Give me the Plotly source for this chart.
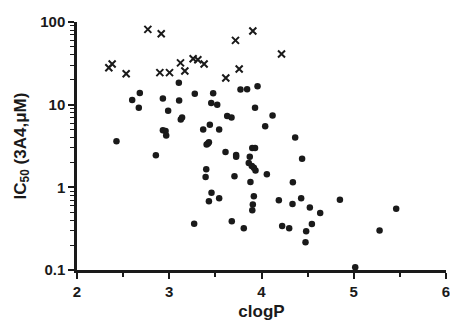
import plotly.graph_objects as go

# Inactive compounds (crosses)
cross_x = [2.345, 2.381, 2.533, 2.768, 2.913, 2.898, 3.003, 3.122, 3.169, 3.259,
           3.310, 3.378, 3.613, 3.718, 3.758, 3.906, 4.217]
cross_y = [28, 31, 23.7, 81.5, 72, 24.4, 24.4, 32, 25.5, 36,
           35, 31, 21, 60, 27, 78, 41]

# Active compounds (dots)
dot_x = [2.428, 2.598, 2.681, 2.670, 2.855, 2.931, 2.931, 2.960, 2.967, 2.988,
         3.104, 3.107, 3.125, 3.139, 3.277, 3.270, 3.368, 3.401, 3.394, 3.405,
         3.420, 3.430, 3.440, 3.430, 3.458, 3.476, 3.455, 3.520, 3.541, 3.541,
         3.610, 3.628, 3.675, 3.678, 3.707, 3.725, 3.725, 3.772, 3.844, 3.808,
         3.862, 3.873, 3.880, 3.900, 3.930, 3.895, 3.917, 3.935, 3.917, 3.906,
         3.900, 3.930, 3.957, 4.058, 4.040, 4.120, 4.188, 4.224, 4.300, 4.336,
         4.340, 4.365, 4.430, 4.440, 4.484, 4.477, 4.524, 4.546, 4.636, 4.850,
         5.016, 5.280, 5.460]
dot_y = [3.6, 11.4, 13.8, 9.2, 2.44, 11.9, 4.9, 4.8, 4.25, 8.45,
         18.4, 11.2, 6.6, 7.0, 13.6, 0.363, 5.0, 1.65, 1.33, 3.3,
         3.4, 3.5, 5.7, 0.68, 0.86, 13.7, 10.5, 10.0, 5.0, 0.74,
         2.67, 7.3, 7.0, 0.39, 1.36, 2.46, 2.35, 15.3, 15.4, 0.32,
         1.97, 2.35, 1.16, 3.0, 3.0, 1.81, 1.72, 1.6, 0.78, 0.62,
         0.53, 9.2, 16.7, 1.44, 5.5, 7.4, 0.70, 0.34, 0.32, 0.63,
         1.15, 4.0, 0.74, 2.22, 0.294, 0.216, 0.57, 0.36, 0.49, 0.71,
         0.108, 0.30, 0.55]

ink = "#1a1a1a"
font = dict(family="Liberation Sans, Arial, sans-serif", size=15, color=ink, weight="bold")

fig = go.Figure()
fig.add_trace(go.Scatter(x=dot_x, y=dot_y, mode="markers",
                         marker=dict(symbol="circle", size=6.5, color=ink),
                         cliponaxis=False))
fig.add_trace(go.Scatter(x=cross_x, y=cross_y, mode="markers",
                         marker=dict(symbol="x-thin", size=7, color=ink,
                                     line=dict(width=2, color=ink)),
                         cliponaxis=False))

fig.update_layout(
    width=450, height=321,
    margin=dict(l=77, r=4, t=22, b=51, autoexpand=False),
    paper_bgcolor="white", plot_bgcolor="white",
    showlegend=False,
    font=font,
    xaxis=dict(range=[2, 6], tickmode="linear", tick0=2, dtick=1,
               ticks="outside", ticklen=6, automargin=False,
               tickwidth=2, tickcolor=ink, showline=True, linewidth=2.5,
               linecolor=ink, showgrid=False, zeroline=False,
               ticklabeloverflow="allow",
               tickfont=dict(size=15, weight="bold", color=ink),
               minor=dict(ticks="outside", ticklen=4.5, tickwidth=1.5,
                          tickcolor=ink, dtick=0.5, tick0=2, showgrid=False),
               title=dict(text="clogP", font=dict(size=17, weight="bold", color=ink),
                          standoff=9)),
    yaxis=dict(type="log", range=[-1, 2], tickmode="linear", tick0=0, dtick=1,
               ticks="outside", ticklen=6, tickwidth=2, tickcolor=ink,
               showline=True, linewidth=2.5, linecolor=ink, showgrid=False,
               zeroline=False, ticklabeloverflow="allow", automargin=False,
               tickfont=dict(size=15, weight="bold", color=ink),
               minor=dict(ticks="outside", ticklen=4, tickwidth=1.2,
                          tickcolor=ink, dtick="D1", showgrid=False),
               title=dict(text="IC<sub>50</sub> (3A4,\u03bcM)",
                          font=dict(size=17, weight="bold", color=ink),
                          standoff=10)),
)

fig.write_html("out.html")
